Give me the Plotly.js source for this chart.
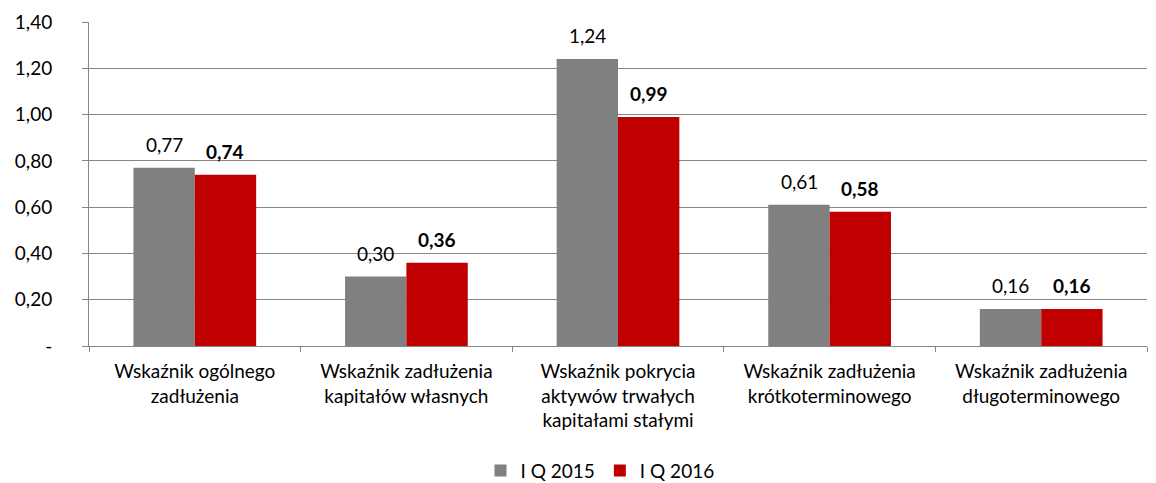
<!DOCTYPE html>
<html>
<head>
<meta charset="utf-8">
<script src="https://cdn.plot.ly/plotly-3.0.1.min.js"></script>
<style>body{margin:0;background:#fff}#plot{width:1156px;height:483px}</style>
</head>
<body>
<div id="plot"></div>
<script>
// categories and values
let categories = [
  "Wskaźnik ogólnego<br>zadłużenia",
  "Wskaźnik zadłużenia<br>kapitałów własnych",
  "Wskaźnik pokrycia<br>aktywów trwałych<br>kapitałami stałymi",
  "Wskaźnik zadłużenia<br>krótkoterminowego",
  "Wskaźnik zadłużenia<br>długoterminowego"
];
let q2015 = [0.77, 0.30, 1.24, 0.61, 0.16];
let q2016 = [0.74, 0.36, 0.99, 0.58, 0.16];
let tickVals = [0, 0.2, 0.4, 0.6, 0.8, 1.0, 1.2, 1.4];
let tickText = ["-", "0,20", "0,40", "0,60", "0,80", "1,00", "1,20", "1,40"];

let fmt = v => v.toFixed(2).replace(".", ",");
let font = "Lato, 'Open Sans', sans-serif";

let trace1 = {
  x: categories,
  y: q2015,
  name: "I Q 2015",
  type: "bar",
  marker: {color: "#808080"}
};

let trace2 = {
  x: categories,
  y: q2016,
  name: "I Q 2016",
  type: "bar",
  marker: {color: "#C00000"}
};

// value labels above the bars
let annotations = [];
categories.forEach((c, i) => {
  annotations.push({x: c, y: q2015[i], text: fmt(q2015[i]), showarrow: false,
    xshift: -30.5, yshift: 10, yanchor: "bottom", font: {size: 19, color: "#000"}});
  annotations.push({x: c, y: q2016[i], text: "<b>" + fmt(q2016[i]) + "</b>", showarrow: false,
    xshift: 30.5, yshift: 10, yanchor: "bottom", font: {size: 19, color: "#000"}});
});

let layout = {
  barmode: "group",
  bargap: 0.42,
  bargroupgap: 0,
  font: {family: font, size: 19, color: "#000"},
  paper_bgcolor: "#fff",
  plot_bgcolor: "#fff",
  showlegend: true,
  legend: {orientation: "h", x: 0.483, xanchor: "center", y: -0.385, yanchor: "middle",
    font: {size: 19}, itemwidth: 30, traceorder: "normal"},
  margin: {l: 89, r: 9, t: 22, b: 137, autoexpand: false},
  xaxis: {
    showline: true, linecolor: "#868686", linewidth: 1,
    ticks: "outside", tickson: "boundaries", ticklen: 5, tickcolor: "#868686",
    ticklabelstandoff: 8, automargin: false
  },
  yaxis: {
    range: [0, 1.4],
    tickvals: tickVals, ticktext: tickText,
    showgrid: true, gridcolor: "#868686", gridwidth: 1,
    showline: true, linecolor: "#868686",
    ticks: "outside", ticklen: 6, tickcolor: "#868686",
    ticklabelstandoff: 26, zeroline: false, automargin: false
  },
  annotations: annotations
};

Plotly.newPlot("plot", [trace1, trace2], layout, {displayModeBar: false});
</script>
</body>
</html>
